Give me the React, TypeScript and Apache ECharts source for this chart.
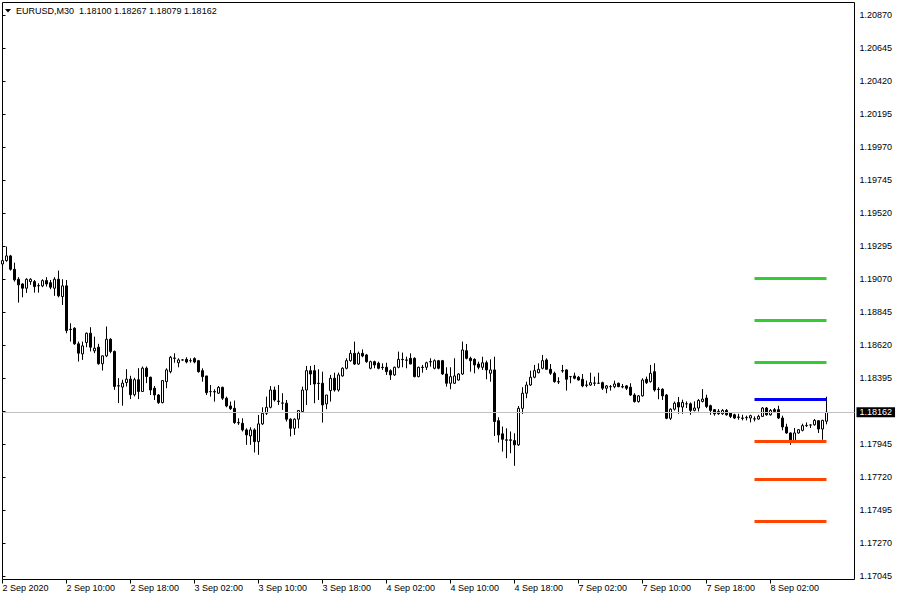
import React, { useEffect, useRef } from 'react';
import * as echarts from 'echarts';

const FONT = 'Tahoma, "Liberation Sans", Arial, sans-serif';
const SYMBOL = 'EURUSD,M30';

// 30-minute bars, first bar 2 Sep 2020 02:00 (weekend gap after 4 Sep 23:30)
const opens = [
  1.19172, 1.19195, 1.19227, 1.19136, 1.19068, 1.19036, 1.19007, 1.19052, 1.19052, 1.19023,
  1.19023, 1.19059, 1.19045, 1.19007, 1.19068, 1.18950, 1.19023, 1.18727, 1.18734, 1.18628,
  1.18559, 1.18637, 1.18700, 1.18580, 1.18605, 1.18492, 1.18546, 1.18659, 1.18576, 1.18342,
  1.18333, 1.18364, 1.18387, 1.18281, 1.18383, 1.18303, 1.18462, 1.18400, 1.18325, 1.18279,
  1.18227, 1.18370, 1.18438, 1.18529, 1.18499, 1.18518, 1.18522, 1.18513, 1.18527, 1.18513,
  1.18445, 1.18409, 1.18302, 1.18302, 1.18291, 1.18331, 1.18257, 1.18204, 1.18188, 1.18091,
  1.18086, 1.18041, 1.18000, 1.18041, 1.17961, 1.18082, 1.18154, 1.18195, 1.18313, 1.18234,
  1.18223, 1.18223, 1.18114, 1.18052, 1.18114, 1.18166, 1.18313, 1.18445, 1.18445, 1.18359,
  1.18359, 1.18218, 1.18309, 1.18393, 1.18313, 1.18409, 1.18461, 1.18513, 1.18563, 1.18490,
  1.18563, 1.18552, 1.18461, 1.18506, 1.18495, 1.18468, 1.18468, 1.18445, 1.18416, 1.18468,
  1.18522, 1.18518, 1.18529, 1.18529, 1.18404, 1.18468, 1.18468, 1.18506, 1.18461, 1.18513,
  1.18513, 1.18422, 1.18359, 1.18359, 1.18381, 1.18422, 1.18581, 1.18529, 1.18522, 1.18490,
  1.18468, 1.18499, 1.18427, 1.18450, 1.18104, 1.18014, 1.17973, 1.17973, 1.17968, 1.17939,
  1.18188, 1.18291, 1.18347, 1.18400, 1.18431, 1.18461, 1.18518, 1.18454, 1.18427, 1.18370,
  1.18445, 1.18450, 1.18404, 1.18409, 1.18400, 1.18386, 1.18347, 1.18347, 1.18359, 1.18359,
  1.18363, 1.18325, 1.18336, 1.18336, 1.18359, 1.18336, 1.18341, 1.18332, 1.18279, 1.18234,
  1.18273, 1.18386, 1.18370, 1.18438, 1.18318, 1.18318, 1.18279, 1.18120, 1.18182, 1.18228,
  1.18197, 1.18219, 1.18219, 1.18174, 1.18190, 1.18235, 1.18258, 1.18206, 1.18179, 1.18167,
  1.18151, 1.18174, 1.18156, 1.18144, 1.18129, 1.18122, 1.18126, 1.18122, 1.18115, 1.18115,
  1.18133, 1.18190, 1.18144, 1.18179, 1.18179, 1.18122, 1.18061, 1.18020, 1.17963, 1.18020,
  1.18038, 1.18070, 1.18074, 1.18076, 1.18104, 1.18047, 1.18100,
];
const highs = [
  1.19211, 1.19291, 1.19234, 1.19181, 1.19082, 1.19041, 1.19075, 1.19075, 1.19063, 1.19041,
  1.19068, 1.19082, 1.19063, 1.19082, 1.19127, 1.19068, 1.19063, 1.18768, 1.18741, 1.18643,
  1.18643, 1.18705, 1.18741, 1.18677, 1.18628, 1.18548, 1.18746, 1.18666, 1.18582, 1.18394,
  1.18383, 1.18455, 1.18410, 1.18396, 1.18462, 1.18473, 1.18473, 1.18404, 1.18340, 1.18286,
  1.18381, 1.18461, 1.18545, 1.18563, 1.18529, 1.18522, 1.18536, 1.18529, 1.18536, 1.18518,
  1.18461, 1.18409, 1.18347, 1.18318, 1.18340, 1.18336, 1.18268, 1.18234, 1.18241, 1.18120,
  1.18120, 1.18052, 1.18059, 1.18052, 1.18143, 1.18195, 1.18268, 1.18340, 1.18336, 1.18347,
  1.18291, 1.18245, 1.18120, 1.18120, 1.18177, 1.18336, 1.18477, 1.18477, 1.18484, 1.18454,
  1.18438, 1.18279, 1.18416, 1.18431, 1.18431, 1.18468, 1.18529, 1.18586, 1.18643, 1.18575,
  1.18590, 1.18559, 1.18513, 1.18513, 1.18506, 1.18495, 1.18499, 1.18454, 1.18472, 1.18575,
  1.18568, 1.18540, 1.18563, 1.18536, 1.18472, 1.18484, 1.18506, 1.18529, 1.18522, 1.18518,
  1.18518, 1.18468, 1.18468, 1.18529, 1.18427, 1.18643, 1.18627, 1.18540, 1.18529, 1.18506,
  1.18540, 1.18513, 1.18522, 1.18540, 1.18127, 1.18064, 1.18052, 1.18030, 1.18018, 1.18204,
  1.18332, 1.18370, 1.18445, 1.18484, 1.18495, 1.18552, 1.18529, 1.18490, 1.18438, 1.18400,
  1.18484, 1.18454, 1.18409, 1.18431, 1.18409, 1.18422, 1.18377, 1.18431, 1.18404, 1.18431,
  1.18370, 1.18347, 1.18347, 1.18377, 1.18363, 1.18354, 1.18347, 1.18359, 1.18291, 1.18279,
  1.18393, 1.18404, 1.18484, 1.18495, 1.18332, 1.18325, 1.18286, 1.18188, 1.18234, 1.18265,
  1.18247, 1.18235, 1.18228, 1.18235, 1.18251, 1.18319, 1.18281, 1.18213, 1.18183, 1.18183,
  1.18183, 1.18183, 1.18160, 1.18151, 1.18151, 1.18144, 1.18138, 1.18144, 1.18133, 1.18144,
  1.18197, 1.18197, 1.18183, 1.18190, 1.18206, 1.18138, 1.18083, 1.18024, 1.18054, 1.18047,
  1.18083, 1.18092, 1.18079, 1.18115, 1.18106, 1.18110, 1.18267,
];
const lows = [
  1.19166, 1.19188, 1.19127, 1.19052, 1.18909, 1.18945, 1.18975, 1.19030, 1.18977, 1.18977,
  1.19014, 1.19018, 1.19000, 1.18955, 1.18945, 1.18893, 1.18700, 1.18643, 1.18621, 1.18507,
  1.18518, 1.18605, 1.18576, 1.18564, 1.18485, 1.18446, 1.18537, 1.18564, 1.18314, 1.18224,
  1.18206, 1.18337, 1.18251, 1.18269, 1.18251, 1.18303, 1.18360, 1.18279, 1.18245, 1.18218,
  1.18222, 1.18325, 1.18427, 1.18499, 1.18468, 1.18513, 1.18495, 1.18499, 1.18495, 1.18431,
  1.18370, 1.18279, 1.18268, 1.18234, 1.18286, 1.18245, 1.18195, 1.18177, 1.18082, 1.18075,
  1.18030, 1.17939, 1.17939, 1.17887, 1.17871, 1.18075, 1.18143, 1.18188, 1.18234, 1.18211,
  1.18177, 1.18098, 1.17996, 1.18007, 1.18052, 1.18159, 1.18211, 1.18347, 1.18223, 1.18245,
  1.18091, 1.18182, 1.18234, 1.18302, 1.18302, 1.18404, 1.18454, 1.18506, 1.18484, 1.18484,
  1.18536, 1.18499, 1.18454, 1.18461, 1.18454, 1.18450, 1.18416, 1.18382, 1.18409, 1.18461,
  1.18468, 1.18461, 1.18490, 1.18400, 1.18400, 1.18431, 1.18450, 1.18472, 1.18454, 1.18454,
  1.18416, 1.18336, 1.18318, 1.18354, 1.18377, 1.18416, 1.18522, 1.18438, 1.18427, 1.18454,
  1.18450, 1.18386, 1.18370, 1.18000, 1.17955, 1.17893, 1.17848, 1.17882, 1.17796, 1.17932,
  1.18150, 1.18257, 1.18341, 1.18393, 1.18427, 1.18454, 1.18454, 1.18416, 1.18363, 1.18354,
  1.18431, 1.18309, 1.18359, 1.18386, 1.18377, 1.18332, 1.18332, 1.18341, 1.18341, 1.18354,
  1.18313, 1.18291, 1.18309, 1.18325, 1.18332, 1.18325, 1.18313, 1.18273, 1.18227, 1.18227,
  1.18268, 1.18354, 1.18363, 1.18302, 1.18250, 1.18245, 1.18114, 1.18109, 1.18173, 1.18151,
  1.18151, 1.18190, 1.18144, 1.18167, 1.18167, 1.18228, 1.18190, 1.18144, 1.18138, 1.18144,
  1.18144, 1.18138, 1.18122, 1.18115, 1.18110, 1.18106, 1.18106, 1.18092, 1.18099, 1.18110,
  1.18129, 1.18138, 1.18138, 1.18160, 1.18115, 1.18038, 1.18015, 1.17940, 1.17951, 1.18015,
  1.18031, 1.18061, 1.18054, 1.18070, 1.18020, 1.17974, 1.18079,
];
const closes = [
  1.19195, 1.19227, 1.19136, 1.19064, 1.19030, 1.19007, 1.19068, 1.19068, 1.19018, 1.19025,
  1.19059, 1.19036, 1.19014, 1.19068, 1.18955, 1.19023, 1.18718, 1.18725, 1.18628, 1.18564,
  1.18614, 1.18700, 1.18605, 1.18598, 1.18492, 1.18546, 1.18659, 1.18576, 1.18337, 1.18340,
  1.18360, 1.18387, 1.18281, 1.18383, 1.18303, 1.18462, 1.18405, 1.18313, 1.18279, 1.18227,
  1.18377, 1.18450, 1.18536, 1.18531, 1.18518, 1.18518, 1.18504, 1.18513, 1.18504, 1.18438,
  1.18404, 1.18295, 1.18302, 1.18300, 1.18331, 1.18257, 1.18204, 1.18186, 1.18091, 1.18089,
  1.18041, 1.18007, 1.18041, 1.17961, 1.18082, 1.18154, 1.18195, 1.18313, 1.18245, 1.18238,
  1.18225, 1.18114, 1.18052, 1.18114, 1.18173, 1.18313, 1.18445, 1.18422, 1.18354, 1.18357,
  1.18211, 1.18279, 1.18393, 1.18313, 1.18416, 1.18461, 1.18513, 1.18563, 1.18490, 1.18563,
  1.18545, 1.18506, 1.18506, 1.18484, 1.18461, 1.18466, 1.18438, 1.18416, 1.18468, 1.18522,
  1.18520, 1.18516, 1.18490, 1.18404, 1.18468, 1.18466, 1.18499, 1.18504, 1.18513, 1.18461,
  1.18422, 1.18359, 1.18404, 1.18409, 1.18422, 1.18586, 1.18529, 1.18513, 1.18484, 1.18468,
  1.18499, 1.18450, 1.18450, 1.18098, 1.18007, 1.17977, 1.17971, 1.17970, 1.17939, 1.18188,
  1.18291, 1.18347, 1.18400, 1.18445, 1.18454, 1.18513, 1.18454, 1.18427, 1.18370, 1.18368,
  1.18443, 1.18386, 1.18404, 1.18393, 1.18381, 1.18341, 1.18345, 1.18363, 1.18361, 1.18359,
  1.18325, 1.18341, 1.18336, 1.18354, 1.18336, 1.18334, 1.18325, 1.18279, 1.18234, 1.18273,
  1.18381, 1.18363, 1.18427, 1.18313, 1.18316, 1.18273, 1.18120, 1.18182, 1.18223, 1.18197,
  1.18228, 1.18219, 1.18174, 1.18190, 1.18242, 1.18251, 1.18201, 1.18174, 1.18151, 1.18151,
  1.18174, 1.18144, 1.18133, 1.18122, 1.18127, 1.18120, 1.18124, 1.18138, 1.18117, 1.18133,
  1.18190, 1.18144, 1.18174, 1.18167, 1.18122, 1.18061, 1.18020, 1.17963, 1.18020, 1.18042,
  1.18070, 1.18072, 1.18074, 1.18106, 1.18047, 1.18106, 1.18162,
];

// Pivot-style level lines drawn over the last bars
const levelValues = [1.19075, 1.18788, 1.18502, 1.18252, 1.17966, 1.17704, 1.17420];
const levelColors = ['#32CD32', '#32CD32', '#32CD32', '#0000FF', '#FF4500', '#FF4500', '#FF4500'];
const levelStartBar = 188;
const levelEndBar = 206;

// Price-scale tick labels (bottom to top)
const yTickLabels = [
  '1.17045', '1.17270', '1.17495', '1.17720', '1.17945', '1.18170', '1.18395', '1.18620', '1.18845',
  '1.19070', '1.19295', '1.19520', '1.19745', '1.19970', '1.20195', '1.20420', '1.20645', '1.20870',
];
const yMin = 1.17021;
const yMax = 1.20955;

const FIRST_BAR = Date.UTC(2020, 8, 2, 2, 0);
const WEEKEND_BAR = 140; // first bar after the weekend gap
const SHIFT_BARS = 7; // empty space on the right (chart shift)
const LABEL_EVERY = 16;

const pad2 = (n: number) => (n < 10 ? '0' + n : '' + n);
const categories: string[] = opens.map((_, i) => {
  const t = FIRST_BAR + i * 30 * 60000 + (i >= WEEKEND_BAR ? 2 * 86400000 : 0);
  const d = new Date(t);
  if (i === 0) return `${d.getUTCDate()} Sep ${d.getUTCFullYear()}`;
  return `${d.getUTCDate()} Sep ${pad2(d.getUTCHours())}:${pad2(d.getUTCMinutes())}`;
});
for (let k = 0; k < SHIFT_BARS; k++) categories.push('');

const N = opens.length;
const last = N - 1;

function buildOption() {
  const candles: any[] = opens.map((o, i) => [o, closes[i], lows[i], highs[i]]);
  for (let k = 0; k < SHIFT_BARS; k++) candles.push('-');

  const showTick = (index: number) => index % LABEL_EVERY === 0 && index < N;
  const fmt = (v: number) => v.toFixed(5);

  const markData: any[] = [
    {
      yAxis: closes[last],
      lineStyle: { color: '#C0C0C0', width: 1, type: 'solid' },
      label: {
        show: true,
        position: 'end',
        distance: 2,
        formatter: () => fmt(closes[last]),
        color: '#fff',
        backgroundColor: '#000',
        padding: [1, 3, 0, 3],
        fontSize: 9,
        fontFamily: FONT,
      },
    },
  ];
  levelValues.forEach((v, k) => {
    markData.push([
      { coord: [levelStartBar, v], lineStyle: { color: levelColors[k], width: 3, type: 'solid' }, label: { show: false } },
      { coord: [levelEndBar, v], lineStyle: { color: levelColors[k], width: 3, type: 'solid' }, label: { show: false } },
    ]);
  });

  return {
    animation: false,
    backgroundColor: '#fff',
    textStyle: { fontFamily: FONT },
    title: {
      text: `${SYMBOL}  ${fmt(opens[last])} ${fmt(highs[last])} ${fmt(lows[last])} ${fmt(closes[last])}`,
      left: 16,
      top: 6,
      padding: 0,
      textStyle: { fontSize: 9, fontWeight: 'normal', color: '#000', fontFamily: FONT },
    },
    graphic: [
      { type: 'polygon', shape: { points: [[5, 9], [11, 9], [8, 12.5]] }, style: { fill: '#000' }, silent: true },
    ],
    grid: [
      {
        left: 2.5, right: 45.5, top: 2.5, bottom: 20.5,
        show: true, borderColor: '#000', borderWidth: 1, backgroundColor: '#fff',
        outerBoundsMode: 'none', containLabel: false,
      },
      {
        left: 2.5, right: 45.5, top: 15, bottom: 24,
        show: false, outerBoundsMode: 'none', containLabel: false,
      },
    ],
    xAxis: [
      {
        type: 'category',
        gridIndex: 0,
        data: categories,
        boundaryGap: false,
        axisLine: { show: false },
        axisTick: { show: true, interval: showTick, length: 4, lineStyle: { color: '#000', width: 1 } },
        axisLabel: {
          show: true,
          interval: showTick,
          align: 'left',
          margin: 4,
          fontSize: 9,
          color: '#000',
          fontFamily: FONT,
        },
        splitLine: { show: false },
      },
      { type: 'value', gridIndex: 1, show: false, min: 0, max: 1 },
    ],
    yAxis: [
      { type: 'value', gridIndex: 0, min: yMin, max: yMax, show: false, scale: true },
      {
        type: 'category',
        gridIndex: 1,
        position: 'right',
        data: yTickLabels,
        boundaryGap: false,
        axisLine: { show: false },
        axisTick: { show: true, interval: 0, length: 3, lineStyle: { color: '#000', width: 1 } },
        axisLabel: {
          show: true,
          interval: 0,
          margin: 5,
          fontSize: 9,
          color: '#000',
          fontFamily: FONT,
          formatter: (v: string) => (Math.abs(parseFloat(v) - closes[last]) < 0.00015 ? '' : v),
        },
        splitLine: { show: false },
      },
    ],
    series: [
      {
        type: 'candlestick',
        xAxisIndex: 0,
        yAxisIndex: 0,
        data: candles,
        barWidth: 2,
        clip: false,
        itemStyle: {
          color: '#fff',
          color0: '#000',
          borderColor: '#000',
          borderColor0: '#000',
          borderColorDoji: '#000',
          borderWidth: 1,
        },
        emphasis: { disabled: true },
        markLine: {
          silent: true,
          symbol: ['none', 'none'],
          precision: 5,
          animation: false,
          label: { show: false },
          data: markData,
        },
      },
    ],
  };
}

export default function App() {
  const ref = useRef<HTMLDivElement>(null);
  useEffect(() => {
    if (!ref.current) return;
    const chart = echarts.init(ref.current, null, { renderer: 'svg' });
    chart.setOption(buildOption() as any);
    return () => chart.dispose();
  }, []);
  return (
    <div
      ref={ref}
      style={{ position: 'fixed', left: 0, top: 0, width: 900, height: 600, background: '#fff' }}
    />
  );
}
